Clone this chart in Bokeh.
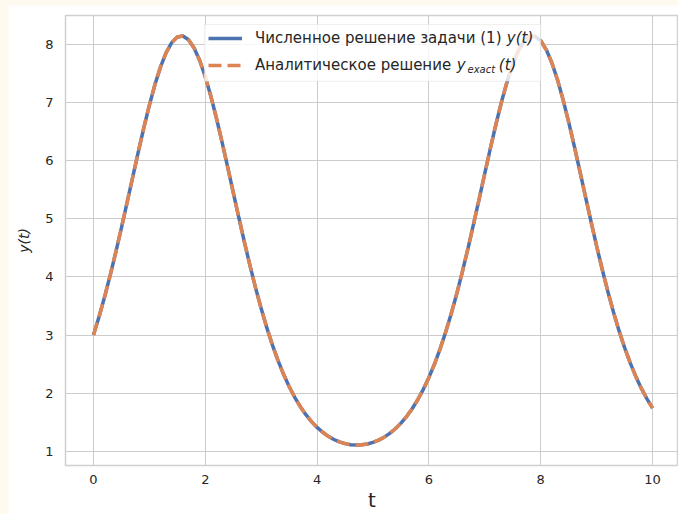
from bokeh.plotting import figure
from bokeh.models import Legend, LegendItem, Label, FixedTicker, Range1d, BoxAnnotation
from bokeh.layouts import column
from bokeh.embed import file_html
from bokeh.resources import INLINE

# time grid and solution values
t_values = [round(0.1 * i, 1) for i in range(101)]
y_numerical = [
    3.000, 3.315, 3.659, 4.031, 4.428, 4.845, 5.276, 5.713, 6.147, 6.566,
    6.959, 7.314, 7.619, 7.863, 8.037, 8.134, 8.152, 8.087, 7.944, 7.729,
    7.448, 7.112, 6.734, 6.323, 5.895, 5.458, 5.024, 4.600, 4.194, 3.811,
    3.455, 3.127, 2.830, 2.562, 2.323, 2.112, 1.927, 1.766, 1.627, 1.508,
    1.408, 1.324, 1.255, 1.200, 1.158, 1.129, 1.111, 1.104, 1.108, 1.123,
    1.150, 1.189, 1.240, 1.305, 1.385, 1.482, 1.596, 1.729, 1.885, 2.064,
    2.269, 2.500, 2.761, 3.051, 3.371, 3.720, 4.097, 4.497, 4.917, 5.350,
    5.787, 6.219, 6.635, 7.022, 7.369, 7.665, 7.897, 8.059, 8.143, 8.146,
    8.069, 7.913, 7.686, 7.395, 7.051, 6.667, 6.253, 5.822, 5.384, 4.951,
    4.530, 4.128, 3.749, 3.398, 3.075, 2.783, 2.520, 2.286, 2.080, 1.899,
    1.741,
]
y_exact = list(y_numerical)

x_ticks = [0, 2, 4, 6, 8, 10]
y_ticks = [1, 2, 3, 4, 5, 6, 7, 8]

TEXT = "#262626"
GRID = "#cccccc"
FONT = "DejaVu Sans"

p = figure(
    width=670, height=509,
    output_backend="svg", toolbar_location=None,
    x_range=Range1d(-0.5, 10.464), y_range=Range1d(0.752, 8.504),
    min_border_left=57, min_border_right=0, min_border_top=10, min_border_bottom=48,
    background_fill_color="white", border_fill_color="white",
)
p.margin = (5, 0, 0, 8)

p.outline_line_color = "#d0d0d0"
p.outline_line_width = 1.5

for ax, ticks in ((p.xaxis, x_ticks), (p.yaxis, y_ticks)):
    ax.ticker = FixedTicker(ticks=ticks)
    ax.axis_line_color = None
    ax.major_tick_line_color = None
    ax.minor_tick_line_color = None
    ax.major_tick_out = 0
    ax.major_tick_in = 0
    ax.major_label_text_font = FONT
    ax.major_label_text_font_size = "13px"
    ax.major_label_text_color = TEXT
    ax.axis_label_text_font = FONT
    ax.axis_label_text_color = TEXT

p.xaxis.major_label_standoff = 9
p.yaxis.major_label_standoff = 12
p.xaxis.axis_label = "t"
p.xaxis.axis_label_text_font_size = "20px"
p.xaxis.axis_label_text_font_style = "normal"
p.xaxis.axis_label_standoff = 1
p.yaxis.axis_label = "y(t)"
p.yaxis.axis_label_text_font_size = "14px"
p.yaxis.axis_label_text_font_style = "italic"
p.yaxis.axis_label_standoff = 10

p.xgrid.grid_line_color = GRID
p.ygrid.grid_line_color = GRID
p.xgrid.grid_line_width = 1
p.ygrid.grid_line_width = 1

r_num = p.line(t_values, y_numerical, line_color="#4c72b0", line_width=3.5)
r_exact = p.line(t_values, y_exact, line_color="#dd8452", line_width=3.5, line_dash="13 6")

# translucent legend frame, drawn under the entry texts
legend_box = BoxAnnotation(
    left=1.982, right=8.0, top=8.349, bottom=7.370,
    fill_color="white", fill_alpha=0.8,
    line_color="#cccccc", line_width=1,
)
p.add_layout(legend_box)

legend = Legend(
    items=[
        LegendItem(label="Численное решение задачи (1)", renderers=[r_num]),
        LegendItem(label="Аналитическое решение", renderers=[r_exact]),
    ],
    location=(138, 385),
    margin=0, padding=5, spacing=7,
    glyph_width=34, glyph_height=20, label_height=20, label_standoff=13,
    label_width=280,
    label_text_font=FONT, label_text_font_size="15px", label_text_color=TEXT,
    border_line_alpha=0, background_fill_alpha=0,
)
p.add_layout(legend)

# italic math parts of the legend entries
math_style = dict(text_font=FONT, text_font_style="italic", text_color=TEXT,
                  text_baseline="middle", text_align="left")
p.add_layout(Label(x=7.393, y=8.109, text="y(t)", text_font_size="15px", **math_style))
p.add_layout(Label(x=6.5, y=7.645, text="y", text_font_size="15px", **math_style))
p.add_layout(Label(x=6.69, y=7.58, text="exact", text_font_size="10px", **math_style))
p.add_layout(Label(x=7.25, y=7.645, text="(t)", text_font_size="15px", **math_style))

page = column(p, styles={"background-color": "#fffaf0"})
open("out.html", "w").write(file_html(page, INLINE))
